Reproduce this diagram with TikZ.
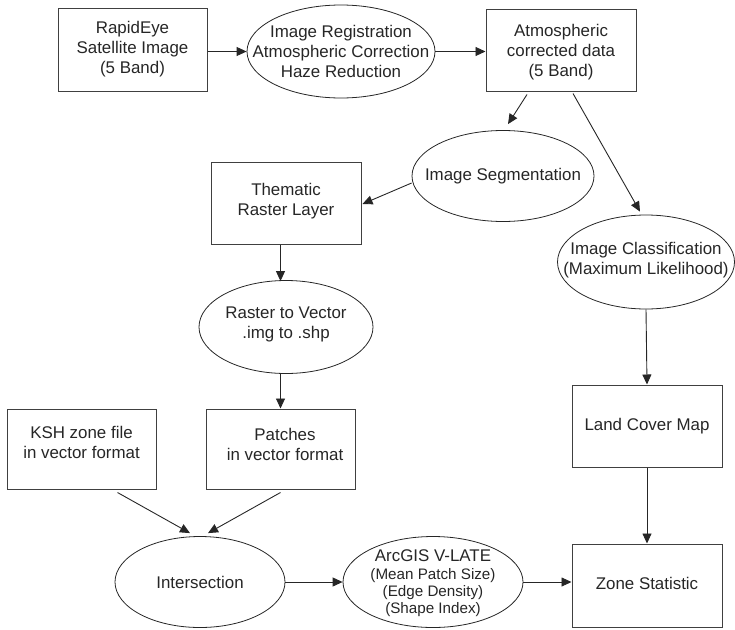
\documentclass[tikz,border=0pt]{standalone}
\usepackage{fontspec}
\setmainfont{Liberation Sans}
\usetikzlibrary{shapes.geometric,arrows.meta,calc}
\begin{document}
\begin{tikzpicture}[x=1pt,y=-1pt,
  box/.style={draw=black!75, line width=1pt, inner sep=0pt, minimum width=150pt, minimum height=82pt},
  ell/.style={ellipse, draw=black!85, line width=0.8pt, inner sep=0pt},
  txt/.style={align=center, font=\fontsize{16.9}{20}\selectfont, text=black!85, inner sep=0pt},
  smalltxt/.style={align=center, font=\fontsize{15.2}{17}\selectfont, text=black!85, inner sep=0pt},
  arr/.style={draw=black!85, line width=0.9pt, -{Triangle[length=10pt,width=9pt]}}
]
\useasboundingbox (0,0) rectangle (735,629);

% shapes
\node[box, minimum width=149pt, minimum height=83pt] (rapid) at (132.5,49.5) {};
\node[ell, minimum width=188pt, minimum height=93pt] (reg) at (341,51.5) {};
\node[box] (atm) at (561,50) {};
\node[ell, minimum width=182pt, minimum height=91pt] (seg) at (503,176) {};
\node[box] (them) at (286,203) {};
\node[ell, minimum width=177pt, minimum height=94pt] (cls) at (646,262) {};
\node[ell, minimum width=174pt, minimum height=93pt] (rast) at (286,327) {};
\node[box, minimum width=149pt, minimum height=80pt] (ksh) at (81.5,449) {};
\node[box, minimum width=149pt, minimum height=80pt] (patch) at (280.5,449) {};
\node[box] (land) at (647,426) {};
\node[ell, minimum width=170pt, minimum height=91pt] (inter) at (200,582) {};
\node[ell, minimum width=180pt, minimum height=91pt] (arc) at (433,582) {};
\node[box, minimum height=83pt] (zone) at (647,585.5) {};

% texts
\node[txt] (rapidT) at (rapid) {RapidEye\\Satellite Image\\(5 Band)};
\node[txt] (regT) at (reg) {Image Registration\\Atmospheric Correction\\Haze Reduction};
\node[txt] (atmT) at (561,52) {Atmospheric\\corrected data\\(5 Band)};
\node[txt] (segT) at (seg) {Image Segmentation};
\node[txt] (themT) at (286,201) {Thematic\\Raster Layer};
\node[txt] (clsT) at (646,260) {Image Classification\\(Maximum Likelihood)};
\node[txt] (rastT) at (286,324) {Raster to Vector\\.img to .shp};
\node[txt] (kshT) at (81.5,442.5) {KSH zone file\\in vector format};
\node[txt] (patchT) at (285,444.5) {Patches\\in vector format};
\node[txt] (landT) at (land) {Land Cover Map};
\node[txt] (interT) at (inter) {Intersection};
\node[smalltxt] (arcT) at (433,583) {{\fontsize{16.9}{17}\selectfont ArcGIS V-LATE}\\[1pt](Mean Patch Size)\\(Edge Density)\\(Shape Index)};
\node[txt] (zoneT) at (647,583) {Zone Statistic};

% connectors
\draw[arr] (rapid.east |- reg.west) -- (reg.west);
\draw[arr] (reg.east) -- (atm.west |- reg.east);
\draw[arr] ($(atm.south)+(-34,3)$) -- ($(seg.north)+(5,-6)$);
\draw[arr] ($(atm.south)+(12,2)$) -- ($(cls.north)+(-6,-3)$);
\draw[arr] ($(seg.west)+(0,7)$) -- ($(them.east)+(1,1)$);
\draw[arr] (them.south -| patch) -- ($(rast.north -| patch)+(0,1)$);
\draw[arr] ($(rast.south -| patch)+(0,-0.5)$) -- (patch.north);
\draw[arr] ($(ksh.south)+(36,3)$) -- ($(inter.north)+(-10,-3)$);
\draw[arr] ($(patch.south)+(0,3)$) -- ($(inter.north)+(8,-3)$);
\draw[arr] (cls.south) -- (land.north);
\draw[arr] (land.south) -- (zone.north);
\draw[arr] (inter.east) -- (arc.west);
\draw[arr] (arc.east) -- (zone.west |- arc.east);
\end{tikzpicture}
\end{document}
